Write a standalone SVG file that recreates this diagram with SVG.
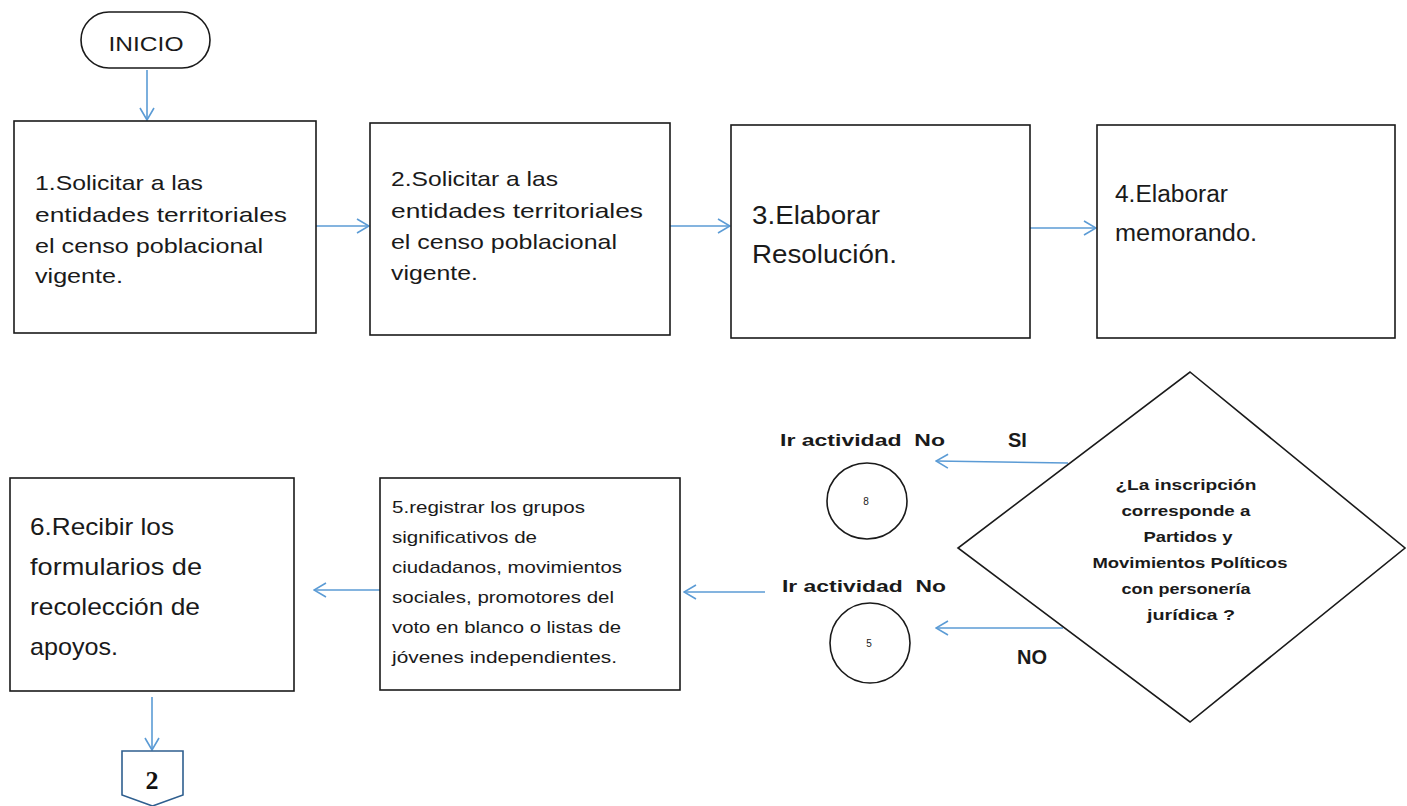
<svg xmlns="http://www.w3.org/2000/svg" width="1407" height="806" viewBox="0 0 1407 806">
<defs>
<style>
.box{fill:#fff;stroke:#1a1a1a;stroke-width:1.6}
.t{font-family:"Liberation Sans","Open Sans",sans-serif;fill:#1a1a1a}
.b{font-weight:bold}
.c{stroke:#5b9bd5;stroke-width:1.6;fill:none}
</style>
<marker id="ah" viewBox="0 0 14 16" refX="13" refY="8" markerWidth="14" markerHeight="16" markerUnits="userSpaceOnUse" orient="auto">
<path d="M1,1 L13,8 L1,15" fill="none" stroke="#5b9bd5" stroke-width="1.6"/>
</marker>
</defs>
<rect width="1407" height="806" fill="#fff"/>

<g id="connectors">
<line class="c" x1="147" y1="70" x2="147" y2="120" marker-end="url(#ah)"/>
<line class="c" x1="316" y1="226" x2="369" y2="226" marker-end="url(#ah)"/>
<line class="c" x1="670" y1="226" x2="730" y2="226" marker-end="url(#ah)"/>
<line class="c" x1="1030" y1="228" x2="1096" y2="228" marker-end="url(#ah)"/>
<line class="c" x1="1068" y1="463" x2="936" y2="461" marker-end="url(#ah)"/>
<line class="c" x1="1063" y1="628" x2="936" y2="628" marker-end="url(#ah)"/>
<line class="c" x1="765" y1="592" x2="684" y2="592" marker-end="url(#ah)"/>
<line class="c" x1="380" y1="590" x2="314" y2="590" marker-end="url(#ah)"/>
<line class="c" x1="152" y1="697" x2="152" y2="750" marker-end="url(#ah)"/>
</g>

<g id="inicio">
<rect class="box" x="81" y="12" width="129" height="56" rx="28" ry="28"/>
<text class="t" x="146" y="51" font-size="21" text-anchor="middle" textLength="75" lengthAdjust="spacingAndGlyphs">INICIO</text>
</g>

<g id="n1">
<rect class="box" x="14" y="121" width="302" height="212"/>
<text class="t" x="35" y="190" font-size="21" textLength="168" lengthAdjust="spacingAndGlyphs">1.Solicitar a las</text>
<text class="t" x="35" y="222" font-size="21" textLength="252" lengthAdjust="spacingAndGlyphs">entidades territoriales</text>
<text class="t" x="35" y="253" font-size="21" textLength="228" lengthAdjust="spacingAndGlyphs">el censo  poblacional</text>
<text class="t" x="35" y="283" font-size="21" textLength="88" lengthAdjust="spacingAndGlyphs">vigente.</text>
</g>

<g id="n2">
<rect class="box" x="370" y="123" width="300" height="212"/>
<text class="t" x="391" y="186" font-size="21" textLength="167" lengthAdjust="spacingAndGlyphs">2.Solicitar a las</text>
<text class="t" x="391" y="218" font-size="21" textLength="252" lengthAdjust="spacingAndGlyphs">entidades territoriales</text>
<text class="t" x="391" y="249" font-size="21" textLength="226" lengthAdjust="spacingAndGlyphs">el censo  poblacional</text>
<text class="t" x="391" y="280" font-size="21" textLength="87" lengthAdjust="spacingAndGlyphs">vigente.</text>
</g>

<g id="n3">
<rect class="box" x="731" y="125" width="299" height="213"/>
<text class="t" x="752" y="224" font-size="25" textLength="128" lengthAdjust="spacingAndGlyphs">3.Elaborar</text>
<text class="t" x="752" y="263" font-size="25" textLength="145" lengthAdjust="spacingAndGlyphs">Resolución.</text>
</g>

<g id="n4">
<rect class="box" x="1097" y="125" width="298" height="213"/>
<text class="t" x="1115" y="202" font-size="23" textLength="113" lengthAdjust="spacingAndGlyphs">4.Elaborar</text>
<text class="t" x="1115" y="241" font-size="23" textLength="142" lengthAdjust="spacingAndGlyphs">memorando.</text>
</g>

<g id="decision">
<polygon class="box" points="1190,372 1405,548 1190,722 958,548"/>
<text class="t b" font-size="15" text-anchor="middle">
<tspan x="1188" y="490" textLength="141" lengthAdjust="spacingAndGlyphs">¿La inscripción</tspan>
<tspan x="1188" y="516" textLength="129" lengthAdjust="spacingAndGlyphs">corresponde a</tspan>
<tspan x="1190" y="542" textLength="89" lengthAdjust="spacingAndGlyphs">Partidos y</tspan>
<tspan x="1192" y="568" textLength="195" lengthAdjust="spacingAndGlyphs">Movimientos Políticos</tspan>
<tspan x="1188" y="594" textLength="129" lengthAdjust="spacingAndGlyphs">con personería</tspan>
<tspan x="1191" y="620" textLength="88" lengthAdjust="spacingAndGlyphs">jurídica ?</tspan>
</text>
<text class="t b" x="1008" y="447" font-size="20">SI</text>
<text class="t b" x="1017" y="664" font-size="20">NO</text>
</g>

<g id="goto8">
<text class="t b" x="780" y="446" font-size="17" textLength="165" lengthAdjust="spacingAndGlyphs" xml:space="preserve">Ir actividad  No</text>
<ellipse class="box" cx="867" cy="501" rx="40" ry="38"/>
<text class="t" x="866" y="505" font-size="10" text-anchor="middle">8</text>
</g>

<g id="goto5">
<text class="t b" x="782" y="592" font-size="17" textLength="164" lengthAdjust="spacingAndGlyphs" xml:space="preserve">Ir actividad  No</text>
<ellipse class="box" cx="870" cy="643" rx="40" ry="40"/>
<text class="t" x="869" y="647" font-size="10" text-anchor="middle">5</text>
</g>

<g id="n5">
<rect class="box" x="380" y="478" width="300" height="212"/>
<text class="t" x="392" y="513" font-size="17" textLength="193" lengthAdjust="spacingAndGlyphs">5.registrar los grupos</text>
<text class="t" x="392" y="543" font-size="17" textLength="145" lengthAdjust="spacingAndGlyphs">significativos de</text>
<text class="t" x="392" y="573" font-size="17" textLength="230" lengthAdjust="spacingAndGlyphs">ciudadanos, movimientos</text>
<text class="t" x="392" y="603" font-size="17" textLength="222" lengthAdjust="spacingAndGlyphs">sociales, promotores del</text>
<text class="t" x="392" y="633" font-size="17" textLength="229" lengthAdjust="spacingAndGlyphs">voto en blanco o listas de</text>
<text class="t" x="392" y="663" font-size="17" textLength="225" lengthAdjust="spacingAndGlyphs">jóvenes independientes.</text>
</g>

<g id="n6">
<rect class="box" x="10" y="478" width="284" height="213"/>
<text class="t" x="30" y="535" font-size="24" textLength="144" lengthAdjust="spacingAndGlyphs">6.Recibir los</text>
<text class="t" x="30" y="575" font-size="24" textLength="172" lengthAdjust="spacingAndGlyphs">formularios  de</text>
<text class="t" x="30" y="615" font-size="24" textLength="170" lengthAdjust="spacingAndGlyphs">recolección de</text>
<text class="t" x="30" y="655" font-size="24" textLength="88" lengthAdjust="spacingAndGlyphs">apoyos.</text>
</g>

<g id="offpage2">
<polygon points="122,751 183,751 183,795 152.5,806 122,795" fill="#fff" stroke="#2f5f8f" stroke-width="1.6"/>
<text x="152" y="789" font-family="Liberation Serif,serif" font-weight="bold" font-size="26" text-anchor="middle" fill="#111">2</text>
</g>
</svg>
